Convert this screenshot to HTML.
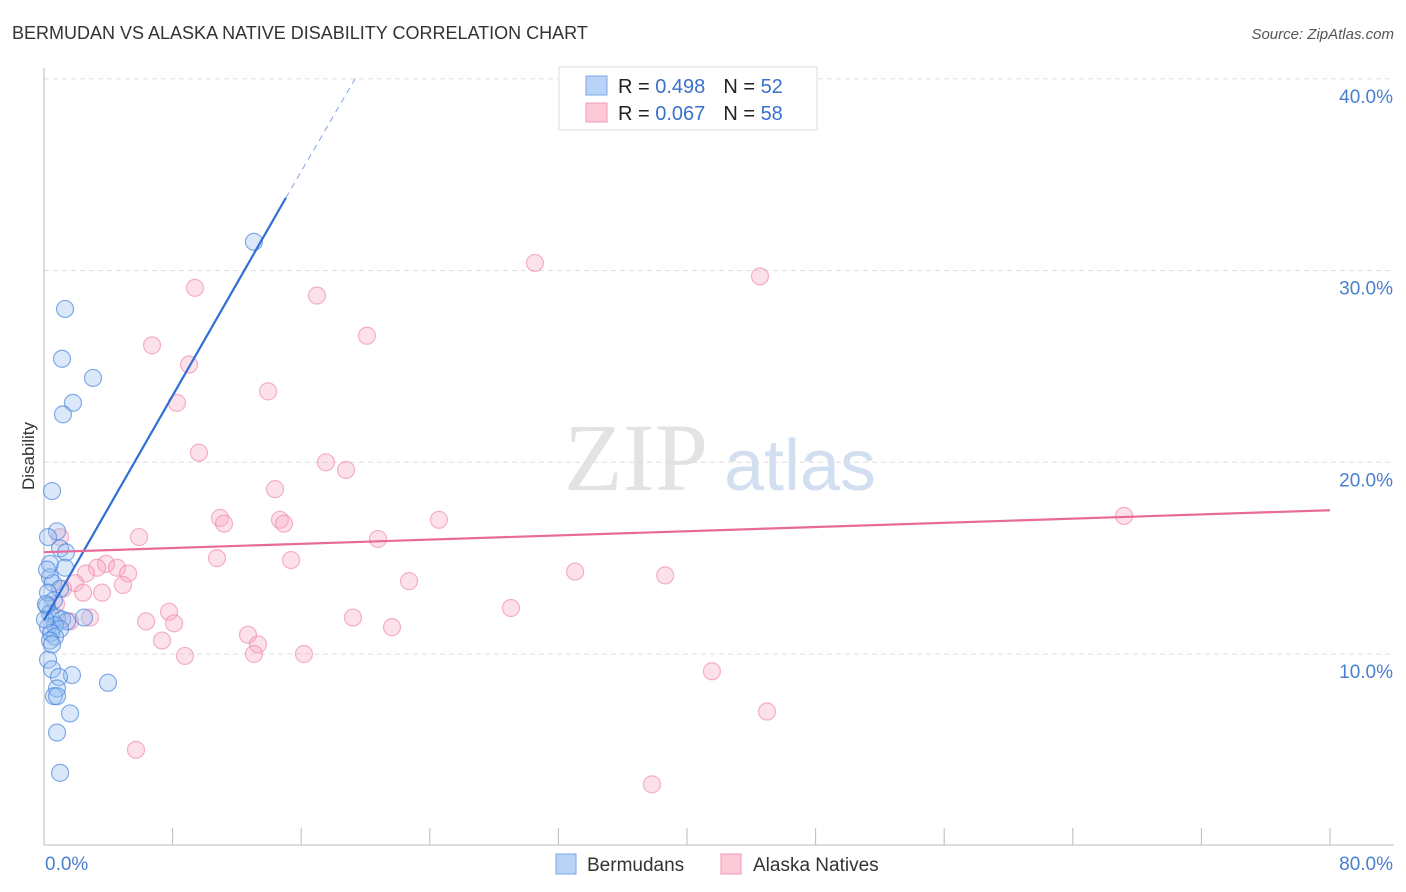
<!DOCTYPE html>
<html><head><meta charset="utf-8">
<style>
body{margin:0;background:#fff;font-family:"Liberation Sans",sans-serif;}
svg{display:block}
</style></head>
<body>
<svg id="chart" width="1406" height="892" xmlns="http://www.w3.org/2000/svg">
<text x="12" y="39" font-size="18" fill="#333">BERMUDAN VS ALASKA NATIVE DISABILITY CORRELATION CHART</text>
<text x="1394" y="39" font-size="15" fill="#555" text-anchor="end" font-style="italic">Source: ZipAtlas.com</text>
<g>
<text x="636" y="490" font-size="96" fill="#ddd" text-anchor="middle" font-family="Liberation Serif" opacity="0.8">ZIP</text>
<text x="800" y="490" font-size="72" fill="#c8d8ee" text-anchor="middle" opacity="0.8">atlas</text>
</g>
<g id="grid"></g>
<g id="axes"></g>
<g id="marks"></g>
<g>
<rect x="559" y="67" width="258" height="63" fill="#fff" stroke="#ddd"/>
<rect x="586" y="76" width="21" height="19" fill="#b8d3f5" stroke="#7aa8e8"/>
<rect x="586" y="103" width="21" height="19" fill="#fbc9d8" stroke="#f29bb5"/>
<text x="618" y="93" font-size="20" fill="#222">R = <tspan fill="#3a70cc">0.498</tspan><tspan dx="18">N = </tspan><tspan fill="#3a70cc">52</tspan></text>
<text x="618" y="120" font-size="20" fill="#222">R = <tspan fill="#3a70cc">0.067</tspan><tspan dx="18">N = </tspan><tspan fill="#3a70cc">58</tspan></text>
</g>
<g>
<rect x="556" y="854" width="20" height="20" fill="#b8d3f5" stroke="#7aa8e8"/>
<text x="587" y="871" font-size="19" fill="#333">Bermudans</text>
<rect x="721" y="854" width="20" height="20" fill="#fbc9d8" stroke="#f29bb5"/>
<text x="753" y="871" font-size="19" fill="#333">Alaska Natives</text>
</g>
<text transform="translate(34,456) rotate(-90)" font-size="17" fill="#333" text-anchor="middle">Disability</text>
</svg>
<script>
const blueX=[13.06,1.31,1.12,3.05,1.80,1.18,0.50,0.81,0.25,1.00,1.37,0.37,1.31,0.37,0.56,1.00,0.25,0.62,0.19,0.37,0.81,1.12,2.49,1.43,0.68,0.25,1.00,0.44,0.68,0.37,0.25,0.50,1.74,0.93,0.81,0.62,0.81,3.98,1.62,0.81,1.00,0.19,0.06,0.12,0.50];
const blueY=[31.5,28.0,25.4,24.4,23.1,22.5,18.5,16.4,16.1,15.5,15.3,14.7,14.5,14.0,13.7,13.4,13.2,12.8,12.5,12.1,11.9,11.8,11.9,11.7,11.5,11.4,11.3,11.1,10.9,10.7,9.7,9.2,8.9,8.8,8.2,7.8,7.8,8.5,6.9,5.9,3.8,14.4,11.8,12.6,10.5];
const pinkX=[30.54,44.54,9.39,16.98,20.09,6.72,9.02,13.94,8.27,9.64,17.54,18.79,14.37,67.19,24.57,10.95,11.2,14.68,14.93,5.91,20.78,1.0,10.76,15.37,3.86,4.54,3.30,2.61,5.23,33.04,38.64,22.71,1.93,4.91,1.18,2.43,3.61,0.75,29.05,7.78,19.22,2.86,6.35,8.09,1.62,21.65,12.69,7.34,13.31,13.06,16.17,8.77,41.55,44.98,5.72,37.82];
const pinkY=[30.4,29.7,29.1,28.7,26.6,26.1,25.1,23.7,23.1,20.5,20.0,19.6,18.6,17.2,17.0,17.1,16.8,17.0,16.8,16.1,16.0,16.1,15.0,14.9,14.7,14.5,14.5,14.2,14.2,14.3,14.1,13.8,13.7,13.6,13.4,13.2,13.2,12.6,12.4,12.2,11.9,11.9,11.7,11.6,11.7,11.4,11.0,10.7,10.5,10.0,10.0,9.9,9.1,7.0,5.0,3.2];
const yTicks=[10,20,30,40];
const yTickLabels=["10.0%","20.0%","30.0%","40.0%"];
const xTicks=[0,8,16,24,32,40,48,56,64,72,80];
const blueTrend=[[0,11.76],[15.05,33.8]];
const blueDash=[[15.05,33.8],[19.35,40]];
const pinkTrend=[[0,15.31],[80,17.5]];

const NS="http://www.w3.org/2000/svg";
const sx=v=>44+v/80*1286;
const sy=v=>845.7-v*19.17;
function mk(parent,tag,attrs){const e=document.createElementNS(NS,tag);for(const k in attrs)e.setAttribute(k,attrs[k]);document.getElementById(parent).appendChild(e);return e;}

yTicks.forEach((t,i)=>{
  const g=mk('grid','line',{x1:44,x2:1394,y1:sy(t),y2:sy(t),stroke:'#ddd','stroke-dasharray':'5,4'});
  
  
  const l=mk('axes','text',{x:1393,y:sy(t)+24,'font-size':19,fill:'#4a7fd0','text-anchor':'end'});
  l.textContent=yTickLabels[i];
  
  
});
const xa=mk('axes','line',{x1:44,x2:1394,y1:845,y2:845,stroke:'#bbb'});


const ya=mk('axes','line',{x1:44,x2:44,y1:68,y2:845,stroke:'#bbb'});


xTicks.forEach(t=>{
  if(t===0)return;
  const k=mk('axes','line',{x1:sx(t),x2:sx(t),y1:828,y2:845,stroke:'#bbb'});
  
  
});
const x0=mk('axes','text',{x:45,y:870,'font-size':19,fill:'#4a7fd0'});x0.textContent='0.0%';


const x1=mk('axes','text',{x:1393,y:870,'font-size':19,fill:'#4a7fd0','text-anchor':'end'});x1.textContent='80.0%';



pinkX.forEach((v,i)=>{
  const c=mk('marks','circle',{cx:sx(v),cy:sy(pinkY[i]),r:8.5,fill:'rgba(248,170,195,0.35)',stroke:'rgba(238,130,165,0.6)','stroke-width':1.2});
  
  
});
blueX.forEach((v,i)=>{
  const c=mk('marks','circle',{cx:sx(v),cy:sy(blueY[i]),r:8.5,fill:'rgba(150,190,240,0.35)',stroke:'rgba(70,130,220,0.65)','stroke-width':1.2});
  
  
});
const bt=mk('marks','line',{x1:sx(blueTrend[0][0]),y1:sy(blueTrend[0][1]),x2:sx(blueTrend[1][0]),y2:sy(blueTrend[1][1]),stroke:'#2e6fd6','stroke-width':2.2});


const bd=mk('marks','line',{x1:sx(blueDash[0][0]),y1:sy(blueDash[0][1]),x2:sx(blueDash[1][0]),y2:sy(blueDash[1][1]),stroke:'#7aa5e6','stroke-width':1,'stroke-dasharray':'6,5'});


const pt=mk('marks','line',{x1:sx(pinkTrend[0][0]),y1:sy(pinkTrend[0][1]),x2:sx(pinkTrend[1][0]),y2:sy(pinkTrend[1][1]),stroke:'#e8699a','stroke-width':2.2});


</script>
</body></html>
